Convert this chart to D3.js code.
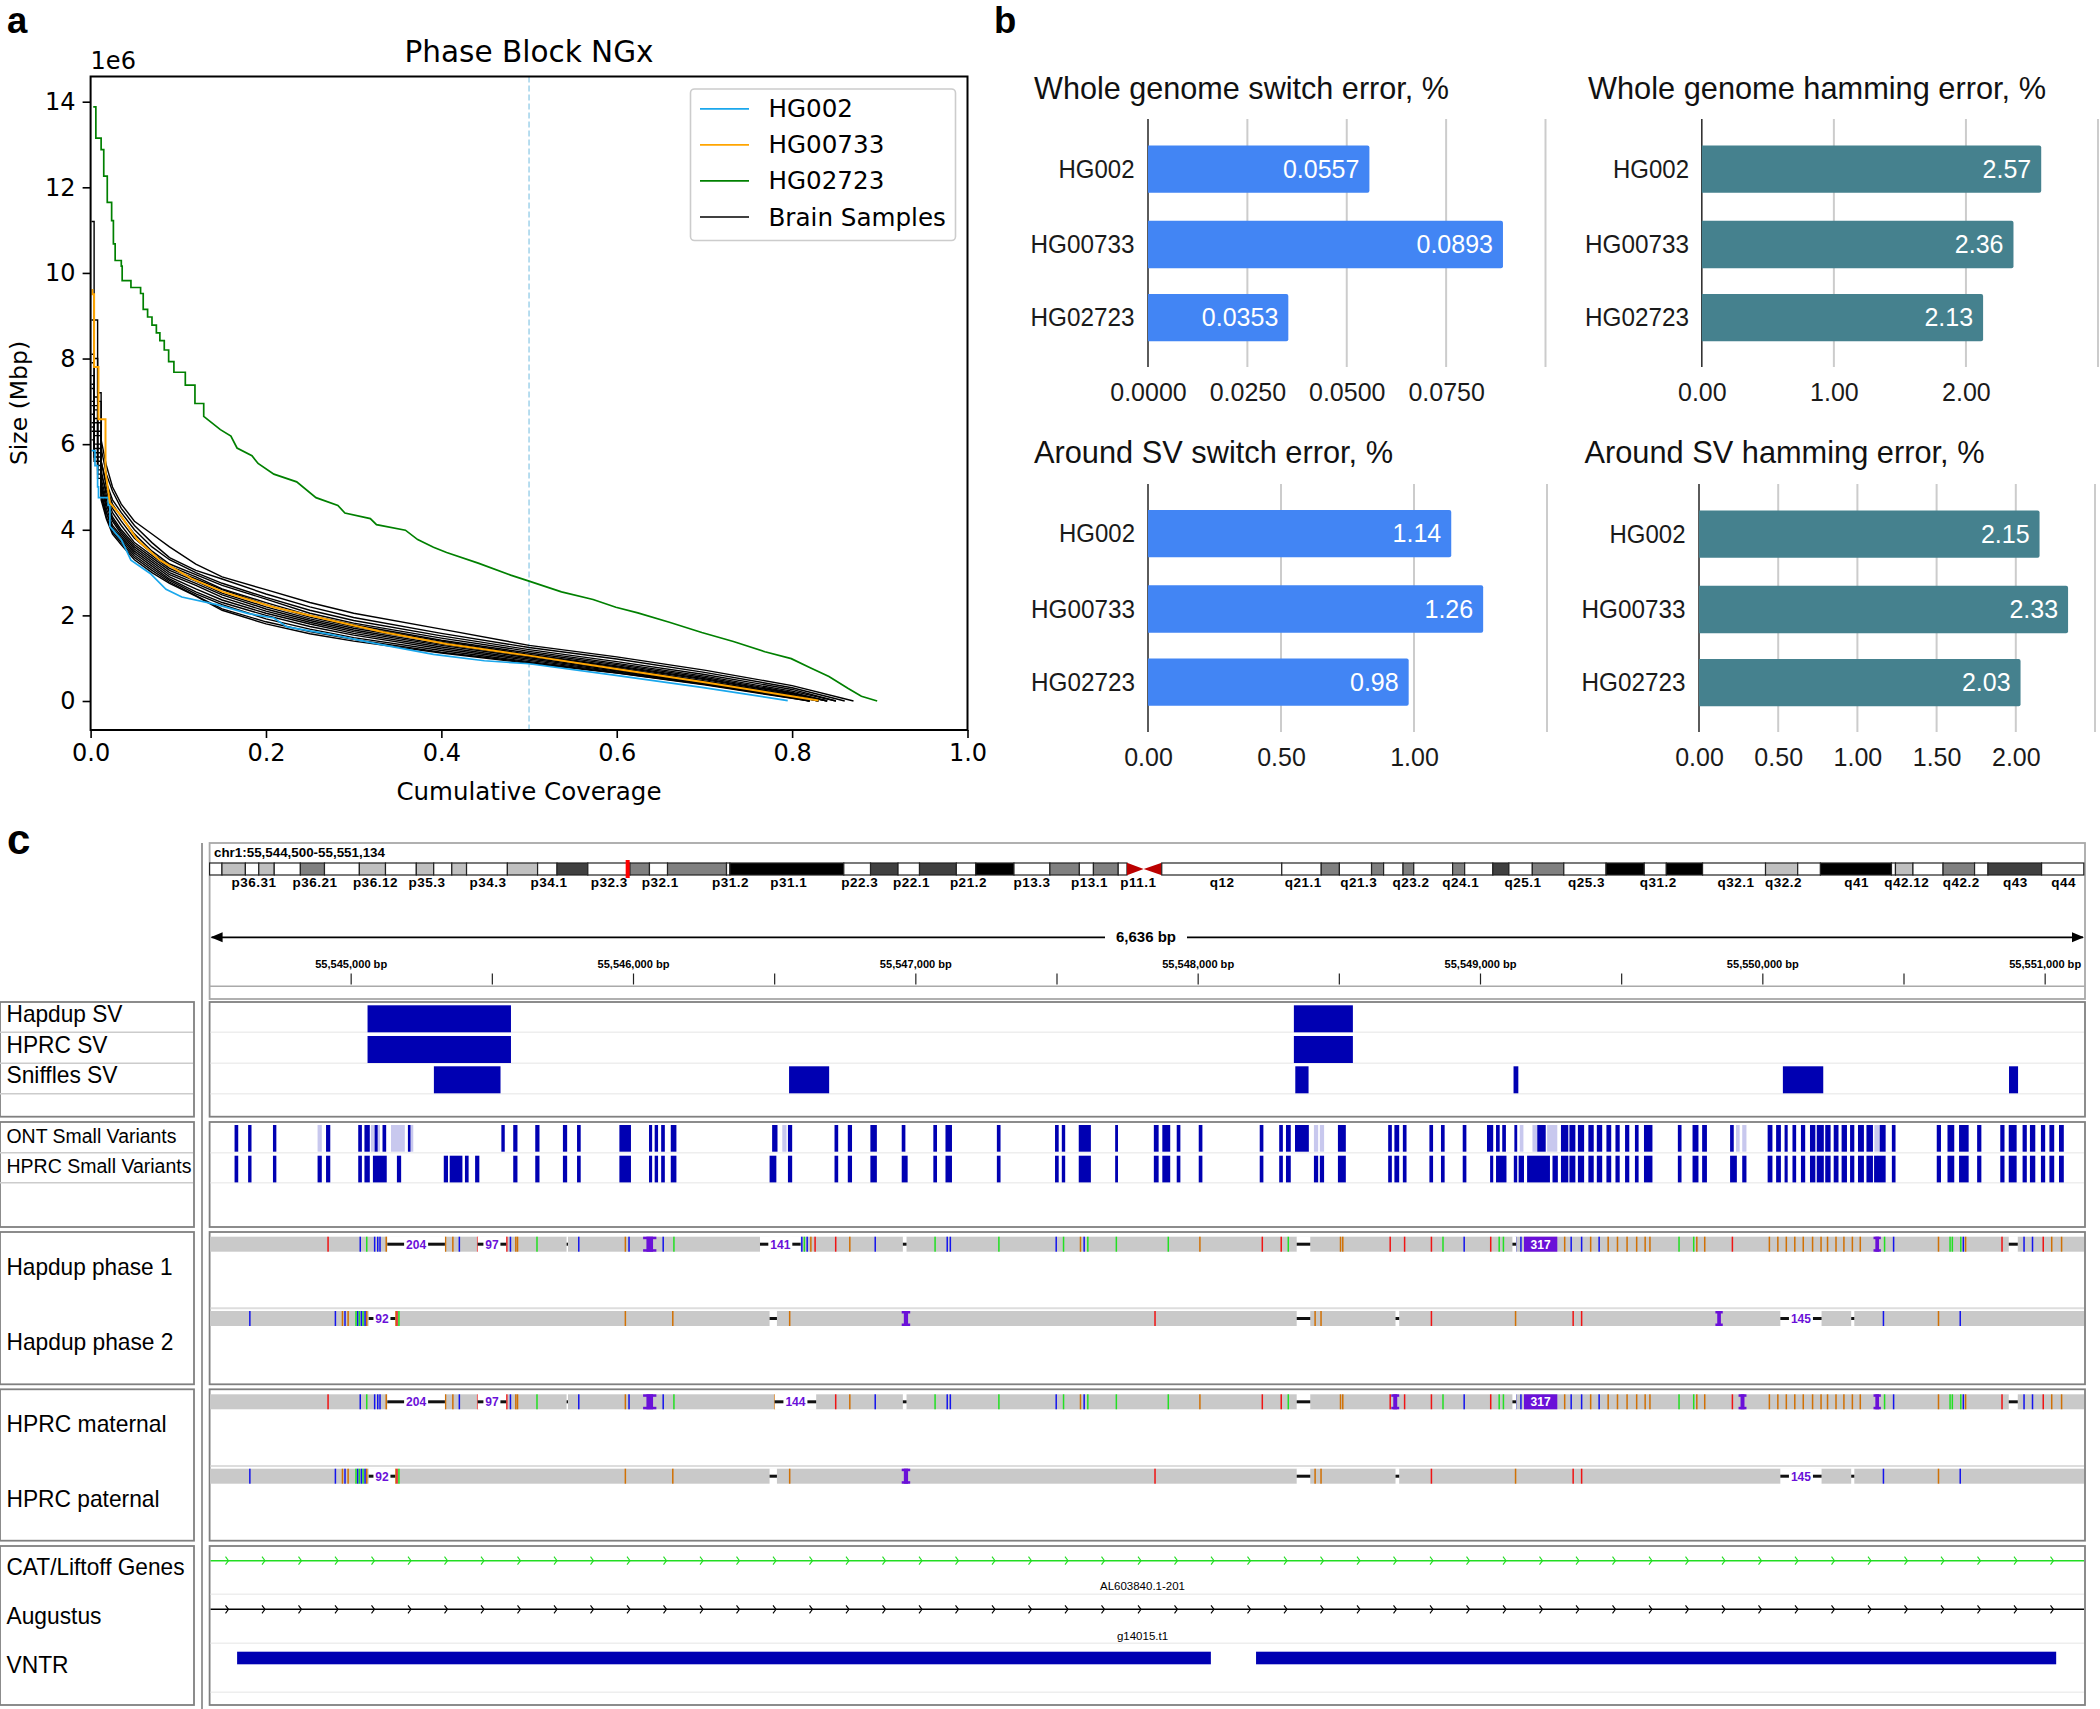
<!DOCTYPE html>
<html><head><meta charset="utf-8">
<script src="https://cdn.jsdelivr.net/npm/d3@7"></script>
<style>html,body{margin:0;padding:0;background:#fff}svg{display:block}</style>
</head><body><svg id="c" width="2100" height="1709"></svg>
<script>
// ---------- panel a ----------
const ngxTicksX=[0,0.2,0.4,0.6,0.8,1.0];
const ngxTicksY=[0,2,4,6,8,10,12,14];
const hg02723X=[0.003,0.006,0.012,0.015,0.019,0.024,0.026,0.028,0.035,0.036,0.046,0.057,0.06,0.065,0.07,0.075,0.079,0.084,0.089,0.095,0.108,0.119,0.129,0.148,0.16,0.167,0.184,0.191,0.209,0.235,0.257,0.282,0.29,0.319,0.326,0.359,0.373,0.391,0.406,0.442,0.479,0.5,0.537,0.573,0.599,0.624,0.66,0.697,0.733,0.769,0.799,0.82,0.842,0.864,0.879,0.897];
const hg02723Y=[13.88,13.15,12.88,12.26,11.65,11.22,10.68,10.29,10.16,9.82,9.66,9.52,9.15,8.97,8.78,8.6,8.42,8.2,7.93,7.68,7.38,6.95,6.65,6.34,6.19,5.91,5.73,5.55,5.3,5.12,4.75,4.57,4.39,4.26,4.12,3.99,3.77,3.59,3.47,3.22,2.94,2.8,2.55,2.37,2.19,2.06,1.84,1.6,1.39,1.15,0.99,0.78,0.57,0.29,0.11,0];
const hg002X=[0.001,0.005,0.008,0.009,0.02,0.022,0.035,0.046,0.068,0.086,0.104,0.144,0.18,0.209,0.224,0.275,0.333,0.391,0.449,0.5,0.599,0.697,0.795];
const hg002Y=[5.85,5.5,5.0,4.75,4.57,4.08,3.77,3.29,2.98,2.61,2.43,2.25,2.04,1.94,1.73,1.55,1.31,1.09,0.94,0.87,0.6,0.32,0.01];
const hg00733X=[0.001,0.002,0.004,0.009,0.017,0.022,0.035,0.053,0.079,0.115,0.151,0.209,0.275,0.333,0.406,0.5,0.6,0.7,0.83];
const hg00733Y=[9.6,9.5,7.8,6.58,5.36,4.63,4.32,3.77,3.29,2.86,2.55,2.19,1.88,1.61,1.33,1.06,0.75,0.44,0.01];
const brainCoverage=[0.001,0.004,0.008,0.012,0.018,0.025,0.035,0.05,0.07,0.09,0.12,0.15,0.2,0.25,0.3,0.4,0.5,0.6,0.7,0.8];
const brainEnds=[0.87,0.86,0.85,0.85,0.84,0.84,0.84,0.83,0.83,0.83,0.82,0.82,0.82,0.82];
const brain01=[11.2,8.9,7.2,6.1,5.5,5.0,4.6,4.2,3.9,3.6,3.2,2.9,2.6,2.3,2.05,1.68,1.3,1.03,0.72,0.36];
const brain02=[8.9,8.0,7.0,5.9,5.3,4.9,4.5,4.1,3.7,3.35,3.05,2.85,2.5,2.2,1.95,1.58,1.25,0.98,0.67,0.31];
const brain03=[8.1,7.1,6.5,5.6,5.1,4.7,4.4,4.0,3.6,3.3,3.0,2.75,2.42,2.12,1.88,1.52,1.2,0.92,0.62,0.27];
const brain04=[7.6,6.8,6.2,5.6,5.0,4.6,4.3,3.9,3.5,3.2,2.95,2.7,2.38,2.05,1.82,1.47,1.16,0.88,0.58,0.23];
const brain05=[7.3,6.5,6.0,5.3,4.9,4.5,4.2,3.8,3.45,3.15,2.9,2.62,2.3,2.0,1.78,1.42,1.12,0.85,0.55,0.2];
const brain06=[7.9,6.9,6.3,5.4,4.8,4.4,4.1,3.7,3.4,3.1,2.85,2.6,2.25,1.96,1.74,1.4,1.09,0.82,0.52,0.18];
const brain07=[7.0,6.3,5.9,5.2,4.7,4.3,4.0,3.65,3.35,3.05,2.8,2.52,2.2,1.92,1.7,1.37,1.07,0.8,0.5,0.17];
const brain08=[6.9,6.2,5.8,5.1,4.6,4.25,3.95,3.6,3.3,3.0,2.75,2.48,2.15,1.88,1.66,1.33,1.04,0.77,0.47,0.15];
const brain09=[6.7,6.0,5.6,5.0,4.6,4.2,3.9,3.55,3.25,2.95,2.7,2.42,2.1,1.84,1.62,1.3,1.01,0.74,0.45,0.13];
const brain10=[7.4,6.6,5.7,5.0,4.5,4.1,3.85,3.5,3.2,2.9,2.62,2.36,2.05,1.8,1.58,1.26,0.98,0.72,0.43,0.12];
const brain11=[6.5,5.9,5.5,4.9,4.4,4.05,3.8,3.45,3.15,2.85,2.55,2.3,2.0,1.74,1.54,1.22,0.95,0.7,0.41,0.1];
const brain12=[6.3,5.8,5.4,4.8,4.4,4.0,3.75,3.4,3.1,2.82,2.5,2.25,1.92,1.68,1.48,1.18,0.92,0.68,0.4,0.09];
const brain13=[6.4,5.7,5.3,4.8,4.3,3.95,3.7,3.35,3.05,2.78,2.46,2.15,1.85,1.62,1.44,1.14,0.9,0.66,0.39,0.07];
const brain14=[6.1,5.6,5.2,4.7,4.25,3.9,3.65,3.3,3.0,2.75,2.45,2.12,1.8,1.57,1.4,1.12,0.88,0.65,0.38,0.06];
const brainSamples=[brain01,brain02,brain03,brain04,brain05,brain06,brain07,brain08,brain09,brain10,brain11,brain12,brain13,brain14];
const legendNames=["HG002","HG00733","HG02723","Brain Samples"];
const legendColors=["#1aa7ec","orange","green","black"];
// ---------- panel b ----------
const sampleNames=["HG002","HG00733","HG02723"];
const wgSwitch=[0.0557,0.0893,0.0353];
const wgHamming=[2.57,2.36,2.13];
const svSwitch=[1.14,1.26,0.98];
const svHamming=[2.15,2.33,2.03];
// ---------- panel c (positions are bp from the locus start 55,544,500) ----------
const locusStart=55544500, locusEnd=55551134;
const cytoEdges=[0,1.64,4.75,6.53,8.58,12.05,15.25,19.88,23.35,27.44,29.75,32.15,34.11,39.53,43.54,46.12,50.21,55.8,58.39,60.79,68.62,69.07,84.19,87.74,91.39,94.24,99.13,101.71,106.78,111.55,115.46,117.33,120.62,121.78,126.4,142.33,147.57,149.98,154.25,155.85,158.43,159.85,165.01,166.61,170.35,172.48,175.59,179.77,185.38,190.45,193.38,198.19,206.55,210.82,213.84,223.27,223.8,226.12,230.12,234.3,236.08,243.2,248.8];
const cytoStains=[0,'l',0,'l',0,'m',0,'l',0,'l',0,'l',0,'l',0,'d',0,'m',0,'m',0,'k',0,'d',0,'d',0,'k',0,'m',0,'m',0,'c',0,0,'m',0,'m',0,'m',0,'m',0,'d',0,'m',0,'k',0,'k',0,'l',0,'k',0,'l',0,'m',0,'d',0];
const cytoLabels=["p36.31","p36.21","p36.12","p35.3","p34.3","p34.1","p32.3","p32.1","p31.2","p31.1","p22.3","p22.1","p21.2","p13.3","p13.1","p11.1","q12","q21.1","q21.3","q23.2","q24.1","q25.1","q25.3","q31.2","q32.1","q32.2","q41","q42.12","q42.2","q43","q44"];
const cytoLabelPos=[5.91,14.0,22.01,28.86,36.95,45.05,53.05,59.82,69.15,76.89,86.32,93.17,100.73,109.18,116.8,123.29,134.41,145.17,152.56,159.49,166.08,174.35,182.8,192.32,202.63,208.95,218.64,225.31,232.52,239.73,246.13];
const currentLocusMb=55.5;
const hapdupSV=[[558,1066],[3839,4048]];
const hprcSV=[[558,1066],[3839,4048]];
const snifflesSV=[[793,1029],[2051,2193],[3844,3891],[4617,4634],[5571,5714],[6372,6404]];
const ontSmall=[[87,100],[135,147],[223,235],[411,426],[525,538],[547,566],[583,594],[611,624],[701,710],[1032,1044],[1074,1089],[1152,1167],[1250,1265],[1300,1313],[1450,1491],[1555,1566],[1575,1587],[1598,1611],[1632,1652],[1991,2010],[2047,2062],[2212,2225],[2259,2274],[2339,2362],[2450,2463],[2562,2575],[2605,2628],[2787,2800],[2993,3006],[3017,3029],[3077,3120],[3206,3216],[3343,3360],[3373,3401],[3424,3437],[3502,3515],[3718,3731],[3787,3800],[3811,3828],[3843,3892],[3995,4023],[4173,4186],[4195,4212],[4225,4238],[4319,4332],[4360,4373],[4437,4450],[4523,4545],[4555,4568],[4577,4590],[4620,4630],[4701,4731],[4785,4811],[4815,4836],[4845,4867],[4882,4901],[4912,4931],[4946,4963],[4978,4993],[5012,5027],[5047,5060],[5079,5109],[5199,5212],[5251,5272],[5285,5302],[5384,5397],[5517,5534],[5547,5564],[5577,5588],[5605,5618],[5635,5650],[5667,5686],[5691,5716],[5721,5740],[5751,5768],[5779,5798],[5809,5824],[5837,5858],[5867,5890],[5914,5935],[5957,5970],[6116,6131],[6154,6178],[6195,6229],[6259,6274],[6341,6356],[6371,6399],[6420,6435],[6446,6465],[6485,6500],[6515,6532],[6549,6566]];
const ontFaint=[[381,396],[570,583],[594,602],[641,690],[703,720],[2027,2042],[3910,3925],[3931,3946],[4639,4652],[4684,4701],[4736,4772],[5405,5418],[5427,5442],[5895,5914]];
const hprcSmall=[[87,100],[135,147],[223,235],[381,396],[411,426],[525,538],[547,566],[577,626],[662,677],[828,843],[849,894],[903,916],[939,954],[1074,1089],[1152,1167],[1250,1265],[1300,1313],[1450,1491],[1555,1566],[1575,1587],[1598,1611],[1632,1652],[1982,2006],[2047,2062],[2212,2225],[2259,2274],[2339,2362],[2450,2471],[2562,2575],[2605,2628],[2787,2800],[2993,3006],[3017,3029],[3077,3120],[3206,3216],[3343,3360],[3373,3401],[3424,3437],[3502,3515],[3718,3731],[3787,3800],[3811,3828],[3910,3925],[3931,3946],[3995,4023],[4173,4186],[4195,4212],[4225,4238],[4319,4332],[4360,4373],[4437,4450],[4534,4545],[4555,4592],[4618,4630],[4635,4654],[4665,4746],[4755,4774],[4785,4811],[4815,4836],[4845,4867],[4882,4901],[4912,4931],[4946,4963],[4978,4993],[5012,5027],[5047,5060],[5079,5109],[5199,5212],[5251,5272],[5285,5302],[5384,5408],[5427,5442],[5517,5534],[5547,5564],[5577,5588],[5605,5618],[5635,5650],[5667,5686],[5691,5716],[5721,5740],[5751,5768],[5779,5798],[5809,5824],[5837,5858],[5867,5890],[5894,5935],[5957,5970],[6116,6131],[6154,6178],[6195,6229],[6259,6274],[6341,6356],[6371,6399],[6420,6435],[6446,6465],[6485,6500],[6515,6532],[6549,6566]];
const baseColor={A:"#22e022",C:"#1414ee",G:"#d17105",T:"#f01414"};
const hapPhase1Ticks=[[418,'T'],[532,'C'],[555,'A'],[583,'C'],[594,'C'],[602,'C'],[624,'G'],[834,'G'],[860,'G'],[883,'C'],[948,'T'],[1051,'T'],[1064,'C'],[1083,'G'],[1089,'G'],[1158,'A'],[1306,'C'],[1471,'G'],[1484,'C'],[1605,'C'],[1643,'A'],[2096,'C'],[2105,'A'],[2115,'C'],[2128,'G'],[2143,'T'],[2216,'T'],[2266,'G'],[2356,'C'],[2568,'A'],[2611,'C'],[2622,'C'],[2794,'A'],[2997,'C'],[3023,'A'],[3083,'G'],[3096,'C'],[3109,'A'],[3210,'A'],[3394,'A'],[3506,'G'],[3727,'T'],[3794,'T'],[3819,'A'],[4004,'G'],[4012,'G'],[4180,'T'],[4231,'T'],[4326,'T'],[4367,'A'],[4442,'C'],[4536,'T'],[4566,'A'],[4581,'A'],[4624,'C'],[4643,'C'],[4798,'G'],[4821,'C'],[4858,'C'],[4890,'G'],[4920,'C'],[4952,'G'],[4985,'G'],[5019,'G'],[5053,'G'],[5083,'G'],[5100,'G'],[5203,'A'],[5255,'A'],[5266,'G'],[5294,'G'],[5392,'T'],[5523,'G'],[5553,'G'],[5583,'G'],[5613,'G'],[5643,'G'],[5676,'G'],[5706,'G'],[5729,'G'],[5759,'G'],[5787,'G'],[5817,'G'],[5845,'G'],[5931,'A'],[5963,'C'],[6122,'G'],[6163,'A'],[6171,'A'],[6201,'A'],[6210,'C'],[6218,'G'],[6347,'T'],[6425,'C'],[6455,'C'],[6493,'T'],[6523,'G'],[6558,'G']];
const hapPhase2Ticks=[[141,'C'],[444,'C'],[469,'G'],[478,'C'],[489,'G'],[517,'A'],[523,'C'],[529,'A'],[536,'C'],[542,'A'],[549,'C'],[555,'G'],[656,'G'],[662,'T'],[669,'A'],[1471,'G'],[1639,'G'],[2053,'G'],[3347,'T'],[3914,'G'],[3935,'G'],[4326,'T'],[4624,'G'],[4828,'T'],[4858,'T'],[5927,'C'],[6122,'G'],[6199,'C']];
const hprcMaternalTicks=hapPhase1Ticks.filter(d=>d[0]<2090||d[0]>2150).concat([[2000,'G']]);
const hprcPaternalTicks=hapPhase2Ticks;
const phase1Del=[[628,832,"204"],[948,1049,"97"],[1263,1268,""],[1948,2092,"141"],[2454,2467,""],[3849,3897,""],[4613,4626,""],[6371,6403,""]];
const maternalDel=[[628,832,"204"],[948,1049,"97"],[1263,1268,""],[2000,2147,"144"],[2454,2467,""],[3849,3897,""],[4613,4626,""],[6371,6403,""]];
const phase2Del=[[562,656,"92"],[1982,2008,""],[3849,3897,""],[4199,4212,""],[5562,5708,"145"],[5813,5824,""]];
const phase1Ins=[[1534,1581,""],[4654,4772,"317"],[5892,5918,""]];
const phase2Ins=[[2450,2480,""],[5332,5358,""]];
const maternalIns=[[1534,1581,""],[4184,4212,""],[4654,4772,"317"],[5414,5442,""],[5892,5918,""]];
const paternalIns=[[2450,2480,""]];
const vntrBlocks=[[96,3545],[3705,6539]];

const svg=d3.select("#c");
const MPL="'DejaVu Sans'", ARIAL="'Liberation Sans'";
function text(g,x,y,s,size,opt={}){
  const t=g.append("text").attr("x",x).attr("y",y).text(s).attr("font-size",size)
   .attr("font-family",opt.font||ARIAL).attr("fill",opt.fill||"#000");
  if(opt.anchor)t.attr("text-anchor",opt.anchor);
  if(opt.weight)t.attr("font-weight",opt.weight);
  if(opt.len)t.attr("textLength",opt.len).attr("lengthAdjust","spacingAndGlyphs");
  return t;
}
text(svg,7,33,"a",36.5,{weight:"bold"});
text(svg,994,33,"b",36.5,{weight:"bold"});
text(svg,7,854,"c",42,{weight:"bold"});

// ---- panel a
(function(){
  const g=svg.append("g");
  const x=d3.scaleLinear().domain([0,1]).range([90.6,967.5]);
  const y=d3.scaleLinear().domain([0,14]).range([701,101.7]);
  const top=76.5,bot=730;
  const line=d3.line().x(d=>x(d[0])).y(d=>y(d[1]));
  // stair rendering of NGx step curves below a coverage threshold
  const stairs=(pts,lim)=>{const o=[];pts.forEach((p,i)=>{o.push(p);const n=pts[i+1];if(n&&n[0]<lim)o.push([n[0],p[1]]);});return o;};
  g.append("line").attr("x1",x(0.5)).attr("x2",x(0.5)).attr("y1",top).attr("y2",bot)
    .attr("stroke","#a6d5ec").attr("stroke-width",1.6).attr("stroke-dasharray","6,3");
  brainSamples.forEach((s,i)=>{
    const pts=s.map((v,j)=>[brainCoverage[j],v]).concat([[brainEnds[i],0]]);
    g.append("path").attr("d",line(stairs(pts,0.013))).attr("fill","none").attr("stroke","#000").attr("stroke-width",1.4);
  });
  const draw=(X,Y,c,lim,w)=>g.append("path").attr("d",line(stairs(X.map((v,i)=>[v,Y[i]]),lim))).attr("fill","none").attr("stroke",c).attr("stroke-width",w);
  draw(hg002X,hg002Y,legendColors[0],0.03,1.7);
  draw(hg00733X,hg00733Y,legendColors[1],0.02,2);
  draw(hg02723X,hg02723Y,legendColors[2],0.13,1.7);
  g.append("rect").attr("x",x(0)).attr("y",top).attr("width",x(1)-x(0)).attr("height",bot-top).attr("fill","none").attr("stroke","#000").attr("stroke-width",2);
  const ax=d3.axisBottom(x).tickValues(ngxTicksX).tickFormat(d3.format(".1f")).tickSize(8).tickPadding(6);
  const ay=d3.axisLeft(y).tickValues(ngxTicksY).tickFormat(d=>d).tickSize(8).tickPadding(7);
  const gx=g.append("g").attr("transform",`translate(0,${bot})`).call(ax);
  const gy=g.append("g").attr("transform",`translate(${x(0)},0)`).call(ay);
  [gx,gy].forEach(a=>{a.select(".domain").remove();a.selectAll("line").attr("stroke-width",1.6).attr("stroke","#000");
    a.selectAll("text").attr("font-size",24).attr("font-family",MPL).attr("fill","#000");});
  text(g,529,62,"Phase Block NGx",29.5,{font:MPL,anchor:"middle"});
  text(g,90.6,69,"1e6",24,{font:MPL});
  text(g,529,800,"Cumulative Coverage",24.5,{font:MPL,anchor:"middle"});
  text(g,0,0,"Size (Mbp)",23.5,{font:MPL,anchor:"middle"}).attr("transform","translate(27,403) rotate(-90)");
  g.append("rect").attr("x",690.5).attr("y",89).attr("width",265).attr("height",151.5).attr("rx",4)
    .attr("fill","#fff").attr("fill-opacity",.9).attr("stroke","#ccc").attr("stroke-width",1.6);
  const ly=d3.scalePoint().domain(legendNames).range([108.8,217]);
  legendNames.forEach((n,i)=>{
    g.append("line").attr("x1",700).attr("x2",749).attr("y1",ly(n)).attr("y2",ly(n)).attr("stroke",legendColors[i]).attr("stroke-width",1.7);
    text(g,768.5,ly(n)+8.5,n,24.6,{font:MPL});
  });
})();

// ---- panel b
const bandNudge=[0,1,-0.4];
function barChart(c){
  const g=svg.append("g");
  const x=d3.scaleLinear().domain([0,c.max]).range(c.xr);
  const band=d3.scaleBand().domain(sampleNames).range(c.yr).paddingInner(0.365).paddingOuter(0.18);
  const y=(n,i)=>band(n)+bandNudge[i];
  g.selectAll("line.grid").data(c.grid).join("line").attr("x1",d=>x(d)).attr("x2",d=>x(d))
    .attr("y1",c.ya[0]).attr("y2",c.ya[1]).attr("stroke","#ccc").attr("stroke-width",2);
  g.append("line").attr("x1",x(0)).attr("x2",x(0)).attr("y1",c.ya[0]).attr("y2",c.ya[1]).attr("stroke","#333").attr("stroke-width",1.6);
  g.selectAll("path.bar").data(c.vals).join("path").attr("d",(d,i)=>{
     const x0=x(0),x1=x(d),y0=y(sampleNames[i],i),h=band.bandwidth(),r=2;
     return `M${x0},${y0}H${x1-r}Q${x1},${y0} ${x1},${y0+r}V${y0+h-r}Q${x1},${y0+h} ${x1-r},${y0+h}H${x0}Z`;
  }).attr("fill",c.color);
  c.vals.forEach((v,i)=>{
    const cy=y(sampleNames[i],i)+band.bandwidth()/2;
    text(g,x(v)-10,cy+8.5,v.toFixed(c.dec),25,{anchor:"end",fill:"#fff"});
    text(g,c.lx,cy+8.5,sampleNames[i],25,{anchor:"end",fill:"#1a1a1a",len:sampleNames[i].length>5?104:76});
  });
  const ax=d3.axisBottom(x).tickValues(c.ticks).tickFormat(d3.format("."+c.tickDec+"f")).tickSize(0).tickPadding(0);
  const ga=g.append("g").attr("transform",`translate(0,${c.tickY})`).call(ax);
  ga.select(".domain").remove();
  ga.selectAll("text").attr("font-size",25).attr("font-family",ARIAL).attr("fill","#1a1a1a").attr("dy",0);
  text(g,c.tx,c.ty,c.title,32,{fill:"#111",len:c.tlen});
}
barChart({title:"Whole genome switch error, %",vals:wgSwitch,max:0.1,xr:[1148,1545.5],yr:[132,355],ya:[119,367],color:"#4285f4",grid:[0.025,0.05,0.075,0.1],ticks:[0,0.025,0.05,0.075],tickDec:4,dec:4,lx:1134.5,tx:1034,ty:98.5,tlen:415,tickY:401});
barChart({title:"Whole genome hamming error, %",vals:wgHamming,max:3,xr:[1701.8,2098],yr:[132,355],ya:[119,367],color:"#45818e",grid:[1,2,3],ticks:[0,1,2],tickDec:2,dec:2,lx:1689,tx:1588,ty:98.5,tlen:458,tickY:401});
barChart({title:"Around SV switch error, %",vals:svSwitch,max:1.5,xr:[1148,1547],yr:[496.5,719.5],ya:[484,732],color:"#4285f4",grid:[0.5,1,1.5],ticks:[0,0.5,1],tickDec:2,dec:2,lx:1135,tx:1034,ty:463,tlen:359,tickY:766});
barChart({title:"Around SV hamming error, %",vals:svHamming,max:2.5,xr:[1699,2095],yr:[497,720],ya:[484,732],color:"#45818e",grid:[0.5,1,1.5,2,2.5],ticks:[0,0.5,1,1.5,2],tickDec:2,dec:2,lx:1685.5,tx:1584.5,ty:463,tlen:400,tickY:766});

// ---- panel c
(function(){
  const g=svg.append("g");
  const PL=209.6,PR=2085;
  const gx=d3.scaleLinear().domain([0,locusEnd-locusStart]).range([210,2083]);
  const gAbs=d3.scaleLinear().domain([locusStart,locusEnd]).range([210,2083]);
  const mb=d3.scaleLinear().domain([0,248.96]).range([209.6,2085]);
  g.append("line").attr("x1",202).attr("x2",202).attr("y1",843).attr("y2",1709).attr("stroke","#999").attr("stroke-width",2);
  const frame=(x,y,w,h,c)=>g.append("rect").attr("x",x).attr("y",y).attr("width",w).attr("height",h).attr("fill","#fff").attr("stroke",c||"#808080").attr("stroke-width",1.8);
  frame(PL,843,PR-PL,156,"#a8a8a8");
  const panels=[[1002,1116.7],[1122,1227],[1232,1384.3],[1389.3,1540.7],[1546,1705]];
  panels.forEach(p=>{frame(PL,p[0],PR-PL,p[1]-p[0]);frame(0,p[0],194,p[1]-p[0]);});
  text(g,214,857,"chr1:55,544,500-55,551,134",13,{weight:"bold",len:171});
  const stainFill={0:"#fff",l:"#c0c0c0",m:"#808080",d:"#404040",k:"#000"};
  cytoStains.forEach((s,i)=>{
    const a=mb(cytoEdges[i]),b=mb(cytoEdges[i+1]);
    if(s==='c'){
      const m=mb(124);
      g.append("path").attr("d",`M${a},862.7L${m},869L${a},875.3Z M${b},862.7L${m},869L${b},875.3Z`).attr("fill","#bb0000");
    } else g.append("rect").attr("x",a).attr("y",863).attr("width",b-a).attr("height",12)
      .attr("fill",stainFill[s]).attr("stroke","#222").attr("stroke-width",1.2);
  });
  g.append("rect").attr("x",mb(currentLocusMb)-2).attr("y",860).attr("width",4).attr("height",18).attr("fill","#f00");
  cytoLabels.forEach((l,i)=>text(g,mb(cytoLabelPos[i]),886.7,l,13.5,{weight:"bold",anchor:"middle"}).attr("letter-spacing",0.5));
  g.append("line").attr("x1",PL+2).attr("x2",1105).attr("y1",937.3).attr("y2",937.3).attr("stroke","#000").attr("stroke-width",1.8);
  g.append("line").attr("x1",1187).attr("x2",PR-2).attr("y1",937.3).attr("y2",937.3).attr("stroke","#000").attr("stroke-width",1.8);
  g.append("path").attr("d",`M${PL+1},937.3l12,-5v10Z M${PR-1},937.3l-12,-5v10Z`).attr("fill","#000");
  text(g,1146,942,"6,636 bp",15,{weight:"bold",anchor:"middle"});
  const labelled=d3.range(55545000,55551001,1000), minor=d3.range(55545000,55551001,500);
  g.selectAll("line.rt").data(minor).join("line").attr("x1",d=>gAbs(d)).attr("x2",d=>gAbs(d)).attr("y1",973.5).attr("y2",984.5).attr("stroke","#222").attr("stroke-width",1.2);
  labelled.forEach(d=>text(g,gAbs(d),967.7,d3.format(",")(d)+" bp",11.5,{weight:"bold",anchor:"middle",len:72}));
  g.append("line").attr("x1",PL).attr("x2",PR).attr("y1",986.3).attr("y2",986.3).attr("stroke","#aaa").attr("stroke-width",1.6);
  const sep=[1032.3,1063.3,1093.7,1152.7,1182.7,1594.3,1643.3,1692.3];
  sep.forEach(y=>{
    g.append("line").attr("x1",PL+1).attr("x2",PR-1).attr("y1",y).attr("y2",y).attr("stroke","#eee").attr("stroke-width",1.6);
    if(y<1200)g.append("line").attr("x1",0).attr("x2",193).attr("y1",y).attr("y2",y).attr("stroke","#ccc").attr("stroke-width",1.6);
  });
  const NAVY="#0000b2";
  const blocks=(arr,y0,h,fill,op)=>g.selectAll(null).data(arr).join("rect").attr("x",d=>gx(d[0])).attr("y",y0)
     .attr("width",d=>Math.max(1.5,gx(d[1])-gx(d[0]))).attr("height",h).attr("fill",fill).attr("fill-opacity",op||1);
  blocks(hapdupSV,1005.3,27,NAVY);blocks(hprcSV,1036,27,NAVY);blocks(snifflesSV,1066.3,27,NAVY);
  blocks(ontFaint,1125,26.7,"#c8c8ee");blocks(ontSmall,1125,26.7,NAVY);blocks(hprcSmall,1155.7,26.7,NAVY);
  function hap(y0,ticks,dels,ins,sepY){
    const H=15;
    if(sepY)g.append("line").attr("x1",PL+1).attr("x2",PR-1).attr("y1",sepY).attr("y2",sepY).attr("stroke","#ddd").attr("stroke-width",2);
    g.append("rect").attr("x",gx(0)).attr("y",y0).attr("width",PR-1-gx(0)).attr("height",H).attr("fill","#c9c9c9");
    ticks.forEach(d=>g.append("rect").attr("x",gx(d[0])-.7).attr("y",y0).attr("width",1.5).attr("height",H).attr("fill",baseColor[d[1]]));
    dels.forEach(d=>{
      const a=gx(d[0]),b=gx(d[1]),m=(a+b)/2;
      g.append("rect").attr("x",a).attr("y",y0-.5).attr("width",b-a).attr("height",H+1).attr("fill","#fff");
      g.append("rect").attr("x",a).attr("y",y0+H/2-1.5).attr("width",b-a).attr("height",3).attr("fill","#111");
      if(d[2]){
        const w=d[2].length*7+3;
        g.append("rect").attr("x",m-w/2).attr("y",y0).attr("width",w).attr("height",H).attr("fill","#fff");
        text(g,m,y0+H/2+4.5,d[2],12,{weight:"bold",anchor:"middle",fill:"#6a10d8"});
      }
    });
    ins.forEach(d=>{
      const a=gx(d[0]),b=gx(d[1]),w=b-a,c="#6a10d8";
      if(d[2]){
        g.append("rect").attr("x",a).attr("y",y0).attr("width",w).attr("height",H).attr("fill",c);
        text(g,(a+b)/2,y0+H/2+4.5,d[2],12,{weight:"bold",anchor:"middle",fill:"#fff"});
      } else {
        g.append("rect").attr("x",a).attr("y",y0).attr("width",w).attr("height",2.5).attr("fill",c);
        g.append("rect").attr("x",a).attr("y",y0+H-2.5).attr("width",w).attr("height",2.5).attr("fill",c);
        g.append("rect").attr("x",a+w*.25).attr("y",y0).attr("width",w*.5).attr("height",H).attr("fill",c);
      }
    });
  }
  hap(1236.7,hapPhase1Ticks,phase1Del,phase1Ins);
  hap(1311,hapPhase2Ticks,phase2Del,phase2Ins,1308.3);
  hap(1394.3,hprcMaternalTicks,maternalDel,maternalIns);
  hap(1468.7,hprcPaternalTicks,phase2Del,paternalIns,1466);
  const chev=d3.range(gx(0)+17,PR,36.5);
  [[1560.7,"#22dd22"],[1609.3,"#000"]].forEach(([y,c])=>{
    g.append("line").attr("x1",PL+1).attr("x2",PR-1).attr("y1",y).attr("y2",y).attr("stroke",c).attr("stroke-width",1.5);
    g.selectAll(null).data(chev).join("path").attr("d",d=>`M${d-1.5},${y-4}l3,4l-3,4`).attr("fill","none").attr("stroke",c).attr("stroke-width",1.1);
  });
  text(g,1142.5,1590,"AL603840.1-201",11.5,{anchor:"middle"});
  text(g,1142.5,1640,"g14015.t1",11.5,{anchor:"middle"});
  blocks(vntrBlocks,1651.7,12.6,NAVY);
  const labels=[["Hapdup SV",1021.7,24,116],["HPRC SV",1052.7,24,101],["Sniffles SV",1083.3,24,111],
    ["ONT Small Variants",1143,20,170],["HPRC Small Variants",1173,20,185],
    ["Hapdup phase 1",1275,24,166],["Hapdup phase 2",1350,24,167],
    ["HPRC maternal",1431.7,24,160],["HPRC paternal",1506.7,24,153],
    ["CAT/Liftoff Genes",1575,24,178],["Augustus",1624,24,95],["VNTR",1672.7,24,62]];
  labels.forEach(l=>text(g,6.5,l[1],l[0],l[2],{len:l[3]}));
})();
</script></body></html>
